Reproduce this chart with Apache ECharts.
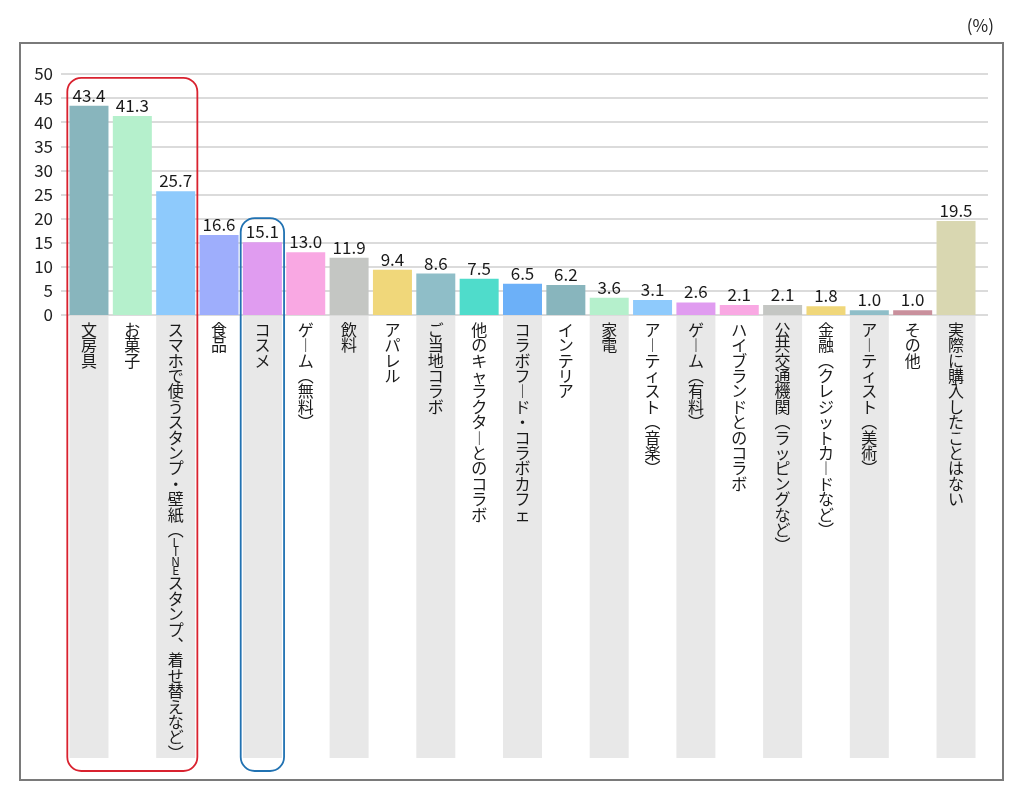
<!DOCTYPE html>
<html>
<head>
<meta charset="utf-8">
<script src="https://cdn.jsdelivr.net/npm/echarts@6/dist/echarts.min.js"></script>
<style>
html,body{margin:0;padding:0;background:#fff;}
#c{width:1024px;height:793px;}
</style>
</head>
<body>
<div id="c"></div>
<script>
const categories = ['文房具','お菓子','スマホで使うスタンプ・壁紙（LINEスタンプ、着せ替えなど）','食品','コスメ','ゲーム（無料）','飲料','アパレル','ご当地コラボ','他のキャラクターとのコラボ','コラボフード・コラボカフェ','インテリア','家電','アーティスト（音楽）','ゲーム（有料）','ハイブランドとのコラボ','公共交通機関（ラッピングなど）','金融（クレジットカードなど）','アーティスト（美術）','その他','実際に購入したことはない'];
const values = [43.4,41.3,25.7,16.6,15.1,13.0,11.9,9.4,8.6,7.5,6.5,6.2,3.6,3.1,2.6,2.1,2.1,1.8,1.0,1.0,19.5];
const barColors = ['#88b5bd','#b5f0cc','#8ecafc','#9eaefc','#e09cf0','#f9a8e3','#c4c6c3','#f0d77a','#8fbec8','#4fdccb','#6cb0f8','#88b5bd','#b5f0cc','#8ecafc','#e09cf0','#f9a8e3','#c4c6c3','#f0d77a','#8fbec8','#c9909c','#d9d7b1'];
const yMin = 0, yMax = 50, yInterval = 5;
const unitLabel = '(%)';
// highlight boxes: first/last category index and top value
const highlightFrom = [0, 4];
const highlightTo = [2, 4];
const highlightTop = [49.2, 20.1];
const highlightColors = ['#d9222f', '#2172b2'];

const FONT = '"Noto Sans CJK JP", "Noto Sans", sans-serif';
const vmap = {'ー':'︱','（':'︵','）':'︶','、':'︑'};
function vertical(s){
  return Array.from(s).map(ch => /[A-Za-z]/.test(ch) ? '{l|' + ch + '}' : '{a|' + (vmap[ch] || ch) + '}').join('\n');
}

const chart = echarts.init(document.getElementById('c'));
const gridCommon = {containLabel:false, outerBoundsMode:'none'};
const option = {
  animation:false,
  textStyle:{fontFamily:FONT},
  title:{text:unitLabel, right:25, top:12, textStyle:{fontFamily:FONT, fontSize:17, fontWeight:'normal', color:'#222'}},
  grid:[
    Object.assign({left:61, right:36, top:74, height:241}, gridCommon),
    Object.assign({left:67.3, right:46.3, top:74, height:241}, gridCommon),
    Object.assign({left:67.3, right:46.3, top:316, height:442}, gridCommon)
  ],
  xAxis:[
    {type:'category', gridIndex:0, data:categories, show:false},
    {type:'category', gridIndex:1, data:categories, show:false},
    {type:'category', gridIndex:2, data:categories, show:false}
  ],
  yAxis:[
    {type:'value', gridIndex:0, min:yMin, max:yMax, interval:yInterval,
     axisLine:{show:false}, axisTick:{show:false},
     axisLabel:{fontFamily:FONT, fontSize:17, color:'#222', margin:8},
     splitLine:{lineStyle:{color:'#cfcfcf', width:1.5}}},
    {type:'value', gridIndex:1, min:yMin, max:yMax, show:false, splitLine:{show:false}},
    {type:'value', gridIndex:2, min:0, max:1, show:false, splitLine:{show:false}}
  ],
  series:[
    {type:'bar', xAxisIndex:1, yAxisIndex:1, barWidth:39,
     data: values.map((v,i)=>({value:v, itemStyle:{color:barColors[i]}})),
     label:{show:true, position:'top', distance:2, fontFamily:FONT, fontSize:17, color:'#1a1a1a',
            formatter:p=>p.value.toFixed(1)}},
    {type:'bar', xAxisIndex:2, yAxisIndex:2, barWidth:39, silent:true,
     data: categories.map((c,i)=>({value:1, itemStyle:{color: i%2===0 ? '#e8e8e8' : 'rgba(0,0,0,0)'}})),
     label:{show:true, position:'insideTop', distance:6, color:'#1a1a1a',
            formatter:p=>vertical(categories[p.dataIndex]),
            rich:{a:{fontFamily:FONT, fontSize:16, lineHeight:15.4, color:'#1a1a1a', align:'center'},
                  l:{fontFamily:FONT, fontSize:12, lineHeight:9.5, color:'#1a1a1a', align:'center'}}}}
  ]
};
chart.setOption(option);

const px = (gi, x, y) => chart.convertToPixel({gridIndex:gi}, [x, y]);
const band = px(1,1,0)[0] - px(1,0,0)[0];
const bottomY = px(2,0,0)[1] + 13;
const graphics = [
  {type:'rect', shape:{x:20, y:43, width:983, height:737}, style:{fill:'none', stroke:'#7a7a7a', lineWidth:2}, z:100}
];
highlightFrom.forEach((f,k)=>{
  const x0 = px(1,f,0)[0] - band/2;
  const x1 = px(1,highlightTo[k],0)[0] + band/2;
  const y0 = px(1,0,highlightTop[k])[1];
  graphics.push({type:'rect', shape:{x:x0, y:y0, width:x1-x0, height:bottomY-y0, r:14},
    style:{fill:'none', stroke:highlightColors[k], lineWidth:1.8}, z:100});
});
chart.setOption({graphic:graphics});
</script>
</body>
</html>
